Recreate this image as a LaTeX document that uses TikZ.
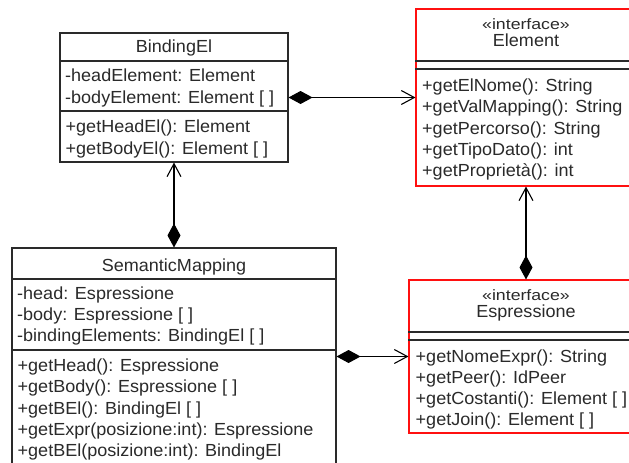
\documentclass[tikz,border=0pt]{standalone}
\usepackage{fontspec}
\setmainfont{Liberation Sans}[FakeStretch=1.03]
\newfontfamily\stereofont{Liberation Sans}[FakeStretch=1.18]
\usepackage{tikz}
\usetikzlibrary{arrows.meta,positioning,calc}
\definecolor{ifacered}{HTML}{FF1010}
\definecolor{linegray}{HTML}{2A2A2A}
\tikzset{
  classbox/.style={
    rectangle,
    draw=linegray,
    line width=1.1pt,
    inner sep=0pt
  },
  ifacebox/.style={
    classbox,
    draw=ifacered
  },
  member/.style={
    anchor=base west,
    inner sep=0pt,
    text=linegray,
    font=\fontsize{17.5}{20}\selectfont
  },
  classname/.style={
    anchor=base,
    inner sep=0pt,
    text=linegray,
    font=\fontsize{17.5}{20}\selectfont
  },
  stereo/.style={
    anchor=base,
    inner sep=0pt,
    text=linegray,
    font=\stereofont\fontsize{15}{16}\selectfont
  },
  sep/.style={draw=linegray, line width=1.1pt},
  compose/.style={{Diamond[length=24pt,width=13pt]}-{Straight Barb[length=13pt,width=14pt]}, line width=1.1pt, draw=black}
}

\begin{document}
\begin{tikzpicture}[x=1pt,y=-1pt]
  \path[use as bounding box, fill=white] (0,0) rectangle (629,463);
  \clip (0,0) rectangle (629,463);

  % class boxes
  \node[classbox, minimum width=228pt, minimum height=129pt] (binding) at (174,97.5) {};
  \node[ifacebox, minimum width=220pt, minimum height=177pt] (element) at (526,97.5) {};
  \node[classbox, minimum width=324pt, minimum height=232pt] (semantic) at (174,364) {};
  \node[ifacebox, minimum width=234pt, minimum height=153pt] (espressione) at (526,356.5) {};

  % BindingEl
  \node[classname] (bindingname) at (174,52.5) {BindingEl};
  \draw[sep] (binding.west |- 0,61) -- (binding.east |- 0,61);
  \node[member] (ba1) at (65,81.5) {-headElement: Element};
  \node[member] (ba2) at (65,103.5) {-bodyElement: Element [ ]};
  \draw[sep] (binding.west |- 0,111) -- (binding.east |- 0,111);
  \node[member] (bm1) at (65.5,132.5) {+getHeadEl(): Element};
  \node[member] (bm2) at (65.5,154.5) {+getBodyEl(): Element [ ]};

  % Element
  \node[stereo] (elementstereo) at (526,29) {«interface»};
  \node[classname] (elementname) at (526,46.5) {Element};
  \draw[sep] (element.west |- 0,61) -- (element.east |- 0,61);
  \draw[sep] (element.west |- 0,69) -- (element.east |- 0,69);
  \node[member] (em1) at (422,91.5) {+getElNome(): String};
  \node[member] (em2) at (422,112.8) {+getValMapping(): String};
  \node[member] (em3) at (422,134.1) {+getPercorso(): String};
  \node[member] (em4) at (422,155.4) {+getTipoDato(): int};
  \node[member] (em5) at (422,176.7) {+getProprietà(): int};

  % SemanticMapping
  \node[classname] (semanticname) at (174,271.5) {SemanticMapping};
  \draw[sep] (semantic.west |- 0,279) -- (semantic.east |- 0,279);
  \node[member] (sa1) at (17,299.5) {-head: Espressione};
  \node[member] (sa2) at (17,320.5) {-body: Espressione [ ]};
  \node[member] (sa3) at (17,341.5) {-bindingElements: BindingEl [ ]};
  \draw[sep] (semantic.west |- 0,350) -- (semantic.east |- 0,350);
  \node[member] (sm1) at (17.5,371.5) {+getHead(): Espressione};
  \node[member] (sm2) at (17.5,392.8) {+getBody(): Espressione [ ]};
  \node[member] (sm3) at (17.5,414.1) {+getBEl(): BindingEl [ ]};
  \node[member] (sm4) at (17.5,435.4) {+getExpr(posizione:int): Espressione};
  \node[member] (sm5) at (17.5,456.7) {+getBEl(posizione:int): BindingEl};

  % Espressione
  \node[stereo] (espressionestereo) at (526,300) {«interface»};
  \node[classname] (espressionename) at (526,317.5) {Espressione};
  \draw[sep] (espressione.west |- 0,332) -- (espressione.east |- 0,332);
  \draw[sep] (espressione.west |- 0,340) -- (espressione.east |- 0,340);
  \node[member] (xm1) at (415.5,362.5) {+getNomeExpr(): String};
  \node[member] (xm2) at (415.5,383.5) {+getPeer(): IdPeer};
  \node[member] (xm3) at (415.5,404.5) {+getCostanti(): Element [ ]};
  \node[member] (xm4) at (415.5,425.5) {+getJoin(): Element [ ]};

  % compositions
  \draw[compose] (binding) -- (element);
  \draw[compose] (semantic) -- (binding);
  \draw[compose] (espressione) -- (element);
  \draw[compose] (semantic.east |- espressione) -- (espressione);
\end{tikzpicture}
\end{document}
